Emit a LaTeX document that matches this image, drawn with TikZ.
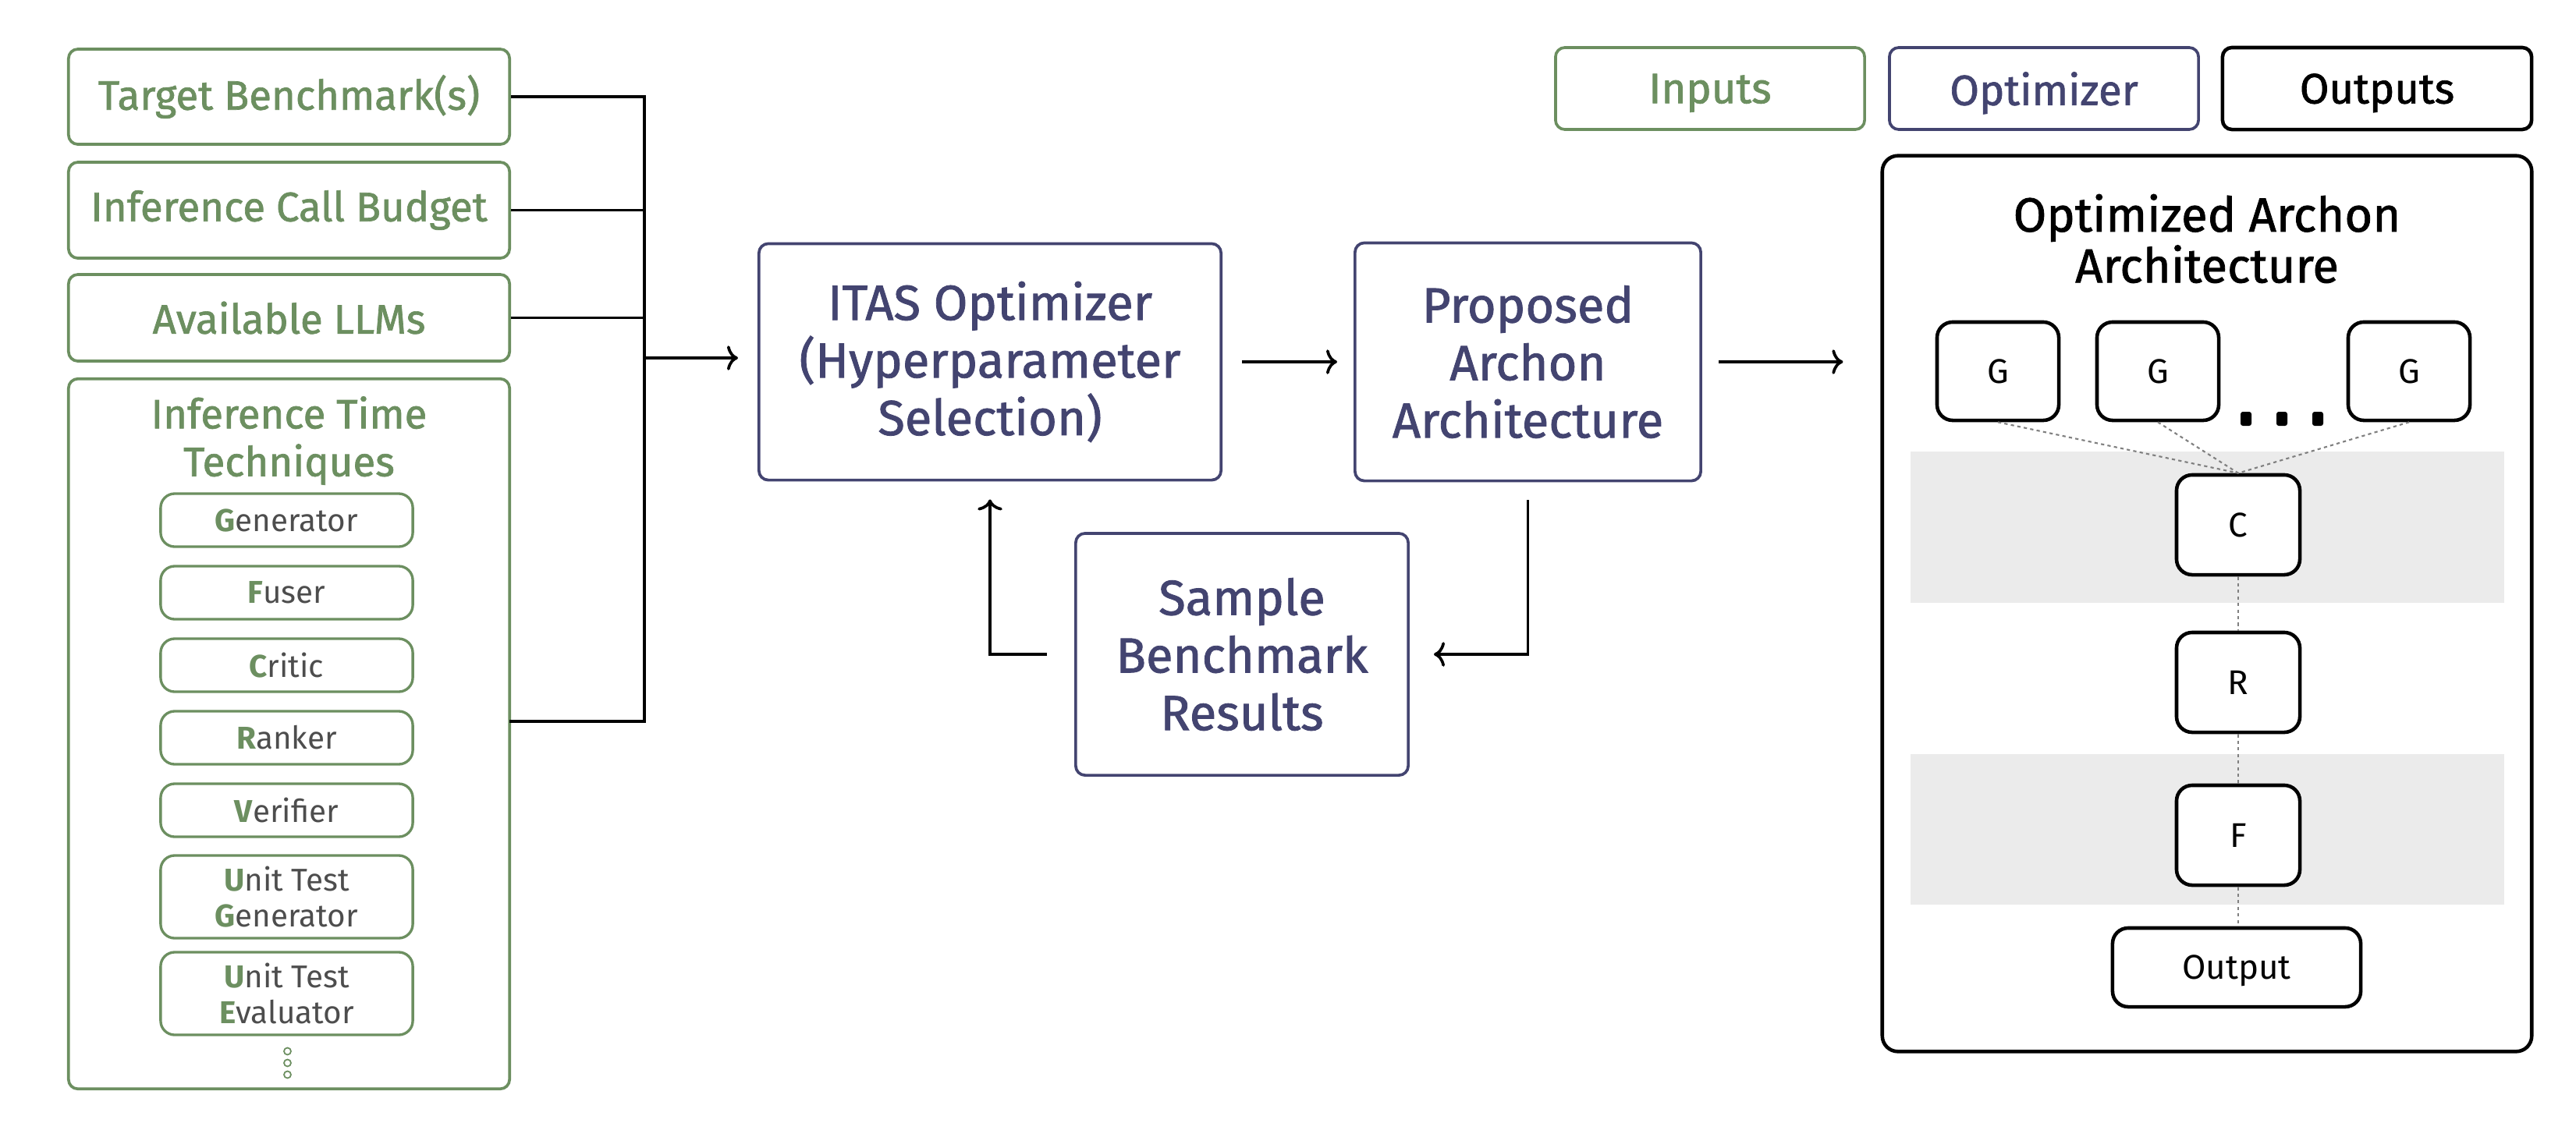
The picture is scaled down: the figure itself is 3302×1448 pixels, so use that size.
\documentclass[tikz,border=0pt]{standalone}
\usepackage{fontspec}
\setmainfont{Fira Sans}
\newfontfamily\medfont{Fira Sans}[FakeBold=1.3]
\usetikzlibrary{arrows.meta}
\definecolor{ingreen}{HTML}{6C8F60}
\definecolor{optnavy}{HTML}{434470}
\definecolor{txtgray}{HTML}{4D4D4D}
\definecolor{bandgray}{HTML}{EBEBEB}
\definecolor{dotgray}{HTML}{808080}
\newcommand{\ini}[1]{{\color{ingreen}\bfseries #1}}
\begin{document}
\begin{tikzpicture}[x=0.01cm,y=-0.01cm,
  inbox/.style={draw=ingreen, line width=1.05pt, rounded corners=0.12cm, text=ingreen, align=center,
    font=\medfont\fontsize{15}{18}\selectfont, inner sep=0pt, minimum width=5.65cm},
  techbox/.style={draw=ingreen, line width=0.95pt, rounded corners=0.18cm, text=txtgray, align=center,
    font=\fontsize{11.5}{13}\selectfont, minimum width=3.23cm, inner sep=0pt},
  optbox/.style={draw=optnavy, line width=1.05pt, rounded corners=0.12cm, text=optnavy, align=center,
    font=\medfont\fontsize{18}{21}\selectfont, inner sep=0pt},
  outbox/.style={draw=black, line width=1.3pt, rounded corners=0.2cm, align=center, fill=white,
    font=\fontsize{12.5}{15}\selectfont, inner sep=0pt, text depth=0pt},
  legbox/.style={rounded corners=0.12cm, minimum width=3.96cm, minimum height=1.05cm, inner sep=0pt,
    font=\medfont\fontsize{15.5}{18}\selectfont, text depth=0pt},
  conn/.style={line width=1.05pt, draw=black},
  arr/.style={conn, -{Computer Modern Rightarrow[length=4pt,width=9pt]}},
  dotline/.style={draw=dotgray, line width=0.6pt, dash pattern=on 1.2pt off 1.2pt},
  blob/.style={fill=black, minimum width=0.14cm, minimum height=0.18cm, rounded corners=0.03cm, inner sep=0pt},
  ringdot/.style={circle, draw=ingreen, line width=0.5pt, minimum size=0.09cm, inner sep=0pt}
]
\useasboundingbox (0,0) rectangle (3302,1448);

% ---------------- Inputs ----------------
\node[inbox, minimum height=1.22cm] (tb) at (370.5,124) {Target Benchmark(s)};
\node[inbox, minimum height=1.23cm] (icb) at (370.5,269.5) {Inference Call Budget};
\node[inbox, minimum height=1.11cm] (llm) at (370.5,407.5) {Available LLMs};
\node[inbox, minimum height=9.10cm] (itt) at (370.5,941) {};
\node[text=ingreen, align=center, font=\medfont\fontsize{15}{17.4}\selectfont] (ittT) at (370.5,565) {Inference Time\\Techniques};

\node[techbox, minimum height=0.68cm] (gen) at (367.5,667) {\ini{G}enerator};
\node[techbox, minimum height=0.68cm] (fus) at (367.5,760) {\ini{F}user};
\node[techbox, minimum height=0.68cm] (cri) at (367.5,853) {\ini{C}ritic};
\node[techbox, minimum height=0.68cm] (ran) at (367.5,946) {\ini{R}anker};
\node[techbox, minimum height=0.68cm] (ver) at (367.5,1039) {\ini{V}erifier};
\node[techbox, minimum height=1.06cm] (utg) at (367.5,1150) {\ini{U}nit Test\\\ini{G}enerator};
\node[techbox, minimum height=1.06cm] (ute) at (367.5,1274) {\ini{U}nit Test\\\ini{E}valuator};
\node[ringdot] (r1) at (368.5,1348) {};
\node[ringdot] (r2) at (368.5,1363) {};
\node[ringdot] (r3) at (368.5,1378) {};

% bracket
\coordinate (bj) at (826,459);
\coordinate (ittE) at (653,925);
\draw[conn] (tb.east) -| (bj);
\draw[conn] (icb.east) -| (bj);
\draw[conn] (llm.east) -| (bj);
\draw[conn] (ittE) -| (bj);

% ---------------- Optimizer loop ----------------
\node[optbox, minimum width=5.92cm, minimum height=3.03cm] (itas) at (1269,464) {ITAS Optimizer\\(Hyperparameter\\Selection)};
\node[optbox, minimum width=4.43cm, minimum height=3.05cm] (prop) at (1958.5,464) {Proposed\\Archon\\Architecture};
\node[optbox, minimum width=4.26cm, minimum height=3.10cm] (samp) at (1592,839) {Sample\\Benchmark\\Results};

\draw[arr, shorten >=0.25cm] (bj) -- (bj -| itas.west);
\draw[arr, shorten <=0.25cm, shorten >=0.21cm] (itas) -- (prop);
\draw[arr] ([yshift=-0.23cm]prop.south) |- ([xshift=0.31cm]samp.east);
\draw[arr] ([xshift=-0.35cm]samp.west) -| ([yshift=-0.23cm]itas.south);

% ---------------- Legend ----------------
\node[legbox, draw=ingreen, line width=1.05pt, text=ingreen] (lin) at (2192,113.5) {Inputs};
\node[legbox, draw=optnavy, line width=1.05pt, text=optnavy] (lopt) at (2620,113.5) {Optimizer};
\node[legbox, draw=black, line width=1.3pt] (lout) at (3047,113.5) {Outputs};

% ---------------- Output architecture ----------------
\node[draw=black, line width=1.3pt, rounded corners=0.2cm, minimum width=8.32cm, minimum height=11.48cm, inner sep=0pt] (opt) at (2829,774) {};
\node[align=center, font=\medfont\fontsize{17.5}{18.6}\selectfont] (optT) at (2829,306) {Optimized Archon\\Architecture};
\draw[arr, shorten <=0.21cm, shorten >=0.48cm] (prop.east) -- (prop.east -| opt.west);

\fill[bandgray] (2449,579) rectangle (3210,773);
\fill[bandgray] (2449,967) rectangle (3210,1160);

\node[outbox, minimum width=1.56cm, minimum height=1.26cm] (g1) at (2561,476) {G};
\node[outbox, minimum width=1.56cm, minimum height=1.26cm] (g2) at (2766,476) {G};
\node[outbox, minimum width=1.56cm, minimum height=1.26cm] (g3) at (3088,476) {G};
\node[blob] (d1) at (2879,537) {};
\node[blob] (d2) at (2925,537) {};
\node[blob] (d3) at (2971,537) {};

\node[outbox, minimum width=1.58cm, minimum height=1.28cm] (c) at (2869,673) {C};
\node[outbox, minimum width=1.58cm, minimum height=1.28cm] (r) at (2869,875) {R};
\node[outbox, minimum width=1.58cm, minimum height=1.28cm] (f) at (2869,1071) {F};
\node[outbox, minimum width=3.18cm, minimum height=1.01cm] (out) at (2867,1240.5) {Output};

\draw[dotline] (g1.south) -- (c.north);
\draw[dotline] (g2.south) -- (c.north);
\draw[dotline] (g3.south) -- (c.north);
\draw[dotline] (c.south) -- (r.north);
\draw[dotline] (r.south) -- (f.north);
\draw[dotline] (f.south) -- (f.south |- out.north);
\end{tikzpicture}
\end{document}
